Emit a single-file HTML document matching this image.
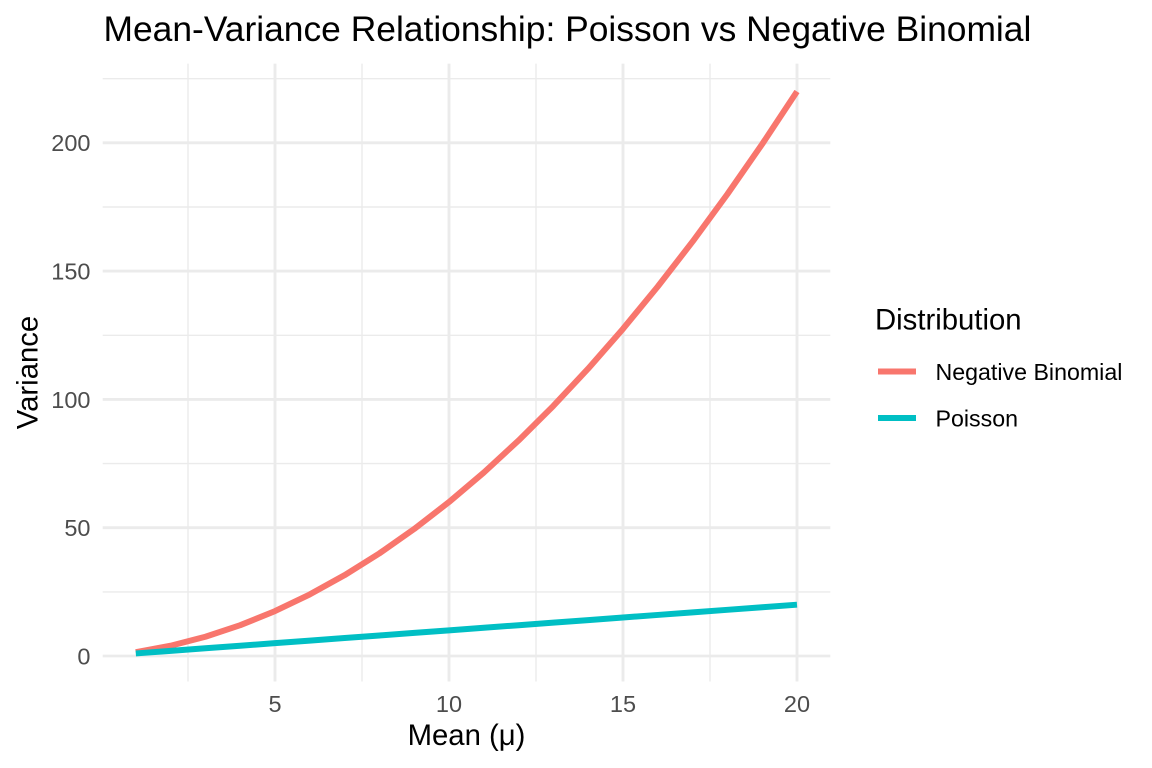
<!DOCTYPE html>
<html><head><meta charset="utf-8"><style>
html,body{margin:0;padding:0;background:#fff;}
svg{display:block;}
text{font-family:"Liberation Sans",Arial,sans-serif;}
</style></head><body>
<svg width="1152" height="768" viewBox="0 0 1152 768" xmlns="http://www.w3.org/2000/svg">
<rect width="1152" height="768" fill="#fff"/>
<!-- minor grid -->
<g stroke="#EBEBEB" stroke-width="1.4" fill="none">
<line x1="188" y1="63.6" x2="188" y2="681.5"/>
<line x1="362" y1="63.6" x2="362" y2="681.5"/>
<line x1="536" y1="63.6" x2="536" y2="681.5"/>
<line x1="710" y1="63.6" x2="710" y2="681.5"/>
<line x1="102.7" y1="591.9" x2="830.3" y2="591.9"/>
<line x1="102.7" y1="463.6" x2="830.3" y2="463.6"/>
<line x1="102.7" y1="335.3" x2="830.3" y2="335.3"/>
<line x1="102.7" y1="207" x2="830.3" y2="207"/>
<line x1="102.7" y1="78.7" x2="830.3" y2="78.7"/>
</g>
<!-- major grid -->
<g stroke="#EBEBEB" stroke-width="2.85" fill="none">
<line x1="275" y1="63.6" x2="275" y2="681.5"/>
<line x1="449" y1="63.6" x2="449" y2="681.5"/>
<line x1="623" y1="63.6" x2="623" y2="681.5"/>
<line x1="797" y1="63.6" x2="797" y2="681.5"/>
<line x1="102.7" y1="656" x2="830.3" y2="656"/>
<line x1="102.7" y1="527.7" x2="830.3" y2="527.7"/>
<line x1="102.7" y1="399.4" x2="830.3" y2="399.4"/>
<line x1="102.7" y1="271.1" x2="830.3" y2="271.1"/>
<line x1="102.7" y1="142.8" x2="830.3" y2="142.8"/>
</g>
<!-- series -->
<polyline id="nb" fill="none" stroke="#F8766D" stroke-width="6" stroke-linejoin="round" points=""/>
<polyline id="po" fill="none" stroke="#00BFC4" stroke-width="6" stroke-linejoin="round" points=""/>
<!-- y tick labels -->
<g fill="#4D4D4D" font-size="23.5" text-anchor="end">
<text x="90.5" y="664.4">0</text>
<text x="90.5" y="536.1">50</text>
<text x="90.5" y="407.8">100</text>
<text x="90.5" y="279.5">150</text>
<text x="90.5" y="151.2">200</text>
</g>
<!-- x tick labels -->
<g fill="#4D4D4D" font-size="23.5" text-anchor="middle">
<text x="275" y="712">5</text>
<text x="449" y="712">10</text>
<text x="623" y="712">15</text>
<text x="797" y="712">20</text>
</g>
<!-- axis titles -->
<text x="466.5" y="745" font-size="29.3" text-anchor="middle" fill="#000">Mean (μ)</text>
<text transform="translate(37.5,372.5) rotate(-90)" font-size="29.3" text-anchor="middle" fill="#000">Variance</text>
<!-- title -->
<text x="103.5" y="41" font-size="35.4" fill="#000">Mean-Variance Relationship: Poisson vs Negative Binomial</text>
<!-- legend -->
<text x="875" y="329.3" font-size="29.3" fill="#000">Distribution</text>
<line x1="878" y1="371.5" x2="916" y2="371.5" stroke="#F8766D" stroke-width="6"/>
<line x1="878" y1="418" x2="916" y2="418" stroke="#00BFC4" stroke-width="6"/>
<text x="935.5" y="380" font-size="23.2" fill="#000">Negative Binomial</text>
<text x="935.5" y="426.4" font-size="23.2" fill="#000">Poisson</text>
</svg>
<script>
(function(){
function X(m){return 275+(m-5)*34.8;}
function Y(v){return 656-v*2.566;}
var nb=[],po=[];
for(var m=1;m<=20;m++){
 nb.push(X(m).toFixed(2)+","+Y(m+m*m/2).toFixed(2));
 po.push(X(m).toFixed(2)+","+Y(m).toFixed(2));
}
document.getElementById("nb").setAttribute("points",nb.join(" "));
document.getElementById("po").setAttribute("points",po.join(" "));
})();
</script>
</body></html>
